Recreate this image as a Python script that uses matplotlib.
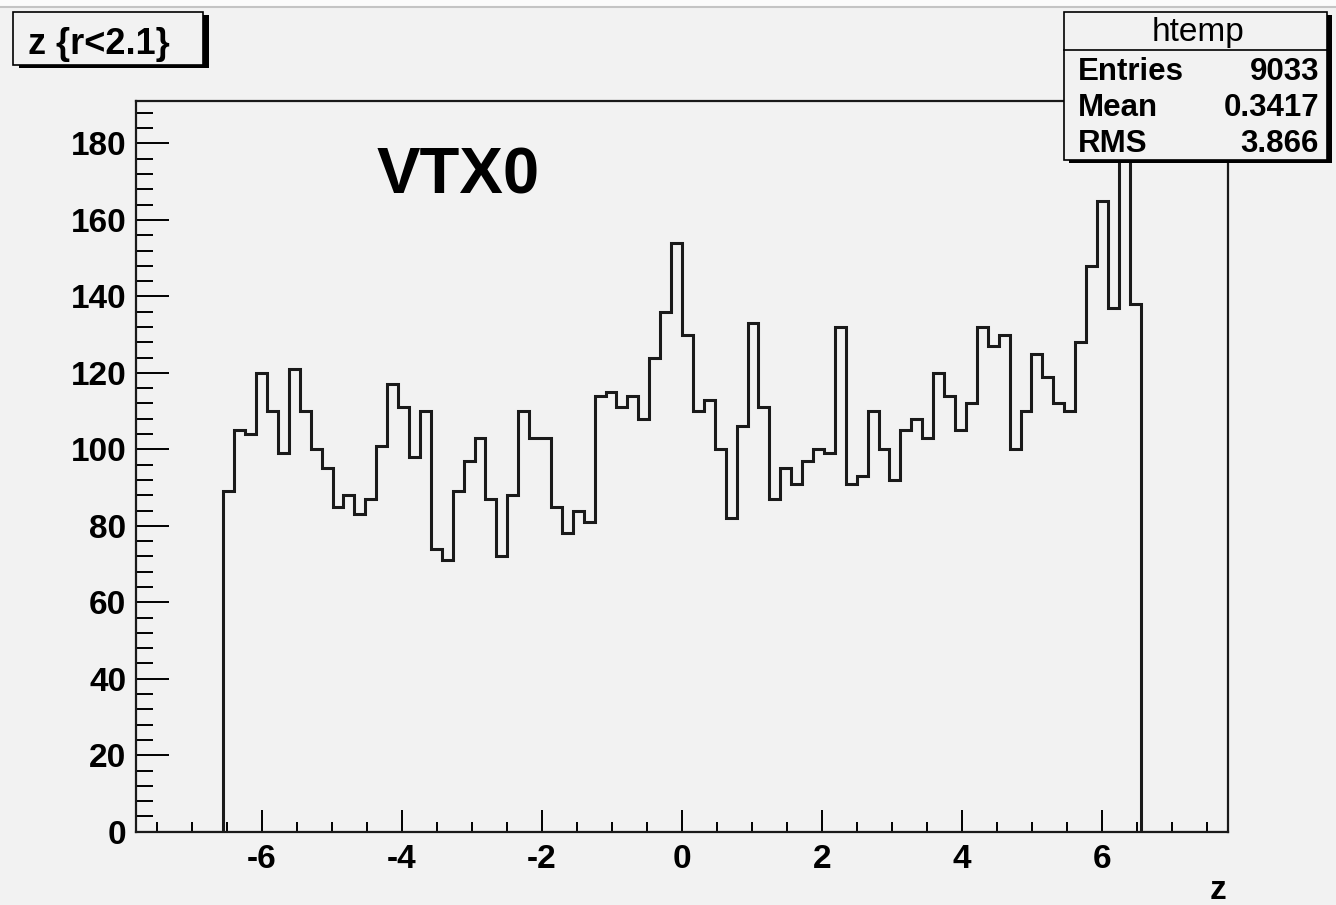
import matplotlib
matplotlib.use('Agg')
import matplotlib.pyplot as plt
import numpy as np
from matplotlib.patches import Rectangle
from matplotlib.lines import Line2D
from matplotlib.ticker import MultipleLocator

plt.rcParams['font.family'] = ['Liberation Sans', 'DejaVu Sans']
plt.rcParams['axes.unicode_minus'] = False

# htemp: z for r<2.1, 100 bins on [-7.8, 7.8], only bins 8..91 are filled
z_lo, z_hi, n_bins = -7.8, 7.8, 100
first_bin = 8
counts = [89, 105, 104, 120, 110, 99, 121, 110, 100, 95, 85, 88, 83, 87, 101, 117, 111, 98, 110, 74, 71,
          89, 97, 103, 87, 72, 88, 110, 103, 103, 85, 78, 84, 81, 114, 115, 111, 114, 108, 124,
          136, 154, 130, 110, 113, 100, 82, 106, 133, 111, 87, 95, 91, 97, 100, 99, 132, 91, 93, 110, 100,
          92, 105, 108, 103, 120, 114, 105, 112, 132, 127, 130, 100, 110, 125, 119, 112, 110, 128, 148, 165,
          137, 182, 138]
stat_names = ['Entries', 'Mean', 'RMS']
stat_values = ['9033', '0.3417', '3.866']

full = np.zeros(n_bins)
full[first_bin:first_bin + len(counts)] = counts
edges = np.linspace(z_lo, z_hi, n_bins + 1)

W, H = 1336, 905
bg = '#f2f2f2'


def fx(px):
    return px / W


def fy(py):
    return 1 - py / H


fig = plt.figure(figsize=(W / 100, H / 100), dpi=100, facecolor=bg)
ax = fig.add_axes([fx(136), fy(831.7), fx(1228) - fx(136), fy(101) - fy(831.7)])
ax.set_facecolor(bg)

ax.stairs(full, edges, baseline=0, fill=False, color='#1a1a1a', linewidth=2.2)

ax.set_xlim(z_lo, z_hi)
ax.set_ylim(0, 1.05 * max(counts))

for s in ax.spines.values():
    s.set_linewidth(1.6)
    s.set_color('#1a1a1a')

ax.xaxis.set_major_locator(MultipleLocator(2))
ax.xaxis.set_minor_locator(MultipleLocator(0.5))
ax.yaxis.set_major_locator(MultipleLocator(20))
ax.yaxis.set_minor_locator(MultipleLocator(4))
ax.tick_params(axis='x', which='major', direction='in', length=15.5, width=1.4, pad=9,
               labelsize=24, top=False)
ax.tick_params(axis='x', which='minor', direction='in', length=7.5, width=1.4, top=False)
ax.tick_params(axis='y', which='major', direction='in', length=23.5, width=1.4, pad=7,
               labelsize=24, right=False)
ax.tick_params(axis='y', which='minor', direction='in', length=12, width=1.4, right=False)
for lab in ax.get_xticklabels() + ax.get_yticklabels():
    lab.set_fontweight('bold')

ax.text(-4.37, 166.8, 'VTX0', fontsize=47, fontweight='bold', ha='left', va='baseline')

# axis title
fig.text(fx(1226), fy(899), 'z', fontsize=24, fontweight='bold', ha='right', va='baseline')

# window edge at the top
fig.add_artist(Rectangle((0, fy(6)), 1, fy(0) - fy(6), transform=fig.transFigure,
                         facecolor='#fbfbfb', edgecolor='none', zorder=5))
fig.add_artist(Line2D([0, 1], [fy(7), fy(7)], transform=fig.transFigure,
                      color='#c4c4c4', linewidth=1.5, zorder=5))


def boxed(x0, y0, x1, y1, dx, dy):
    fig.add_artist(Rectangle((fx(x0 + dx), fy(y1 + dy)), fx(x1) - fx(x0), fy(y0) - fy(y1),
                             transform=fig.transFigure, facecolor='black', edgecolor='none', zorder=6))
    fig.add_artist(Rectangle((fx(x0), fy(y1)), fx(x1) - fx(x0), fy(y0) - fy(y1),
                             transform=fig.transFigure, facecolor=bg, edgecolor='black',
                             linewidth=1.2, zorder=7))


# title pave
boxed(12.7, 11.7, 203.3, 65, 6, 3.5)
fig.text(fx(28), fy(53.5), 'z {r<2.1}', fontsize=26, fontweight='bold', ha='left', va='baseline', zorder=8)

# statistics box
boxed(1064, 12, 1327, 160, 5, 3)
fig.add_artist(Line2D([fx(1064), fx(1327)], [fy(50), fy(50)], transform=fig.transFigure,
                      color='black', linewidth=1.2, zorder=8))
fig.text(fx(1198), fy(41.5), 'htemp', fontsize=24, ha='center', va='baseline', zorder=8)
for name, val, base in zip(stat_names, stat_values, [80, 115.5, 151.5]):
    fig.text(fx(1078), fy(base), name, fontsize=22.5, fontweight='bold', ha='left', va='baseline', zorder=8)
    fig.text(fx(1319), fy(base), val, fontsize=22.5, fontweight='bold', ha='right', va='baseline', zorder=8)

fig.savefig('out.png', dpi=100, facecolor=bg)
